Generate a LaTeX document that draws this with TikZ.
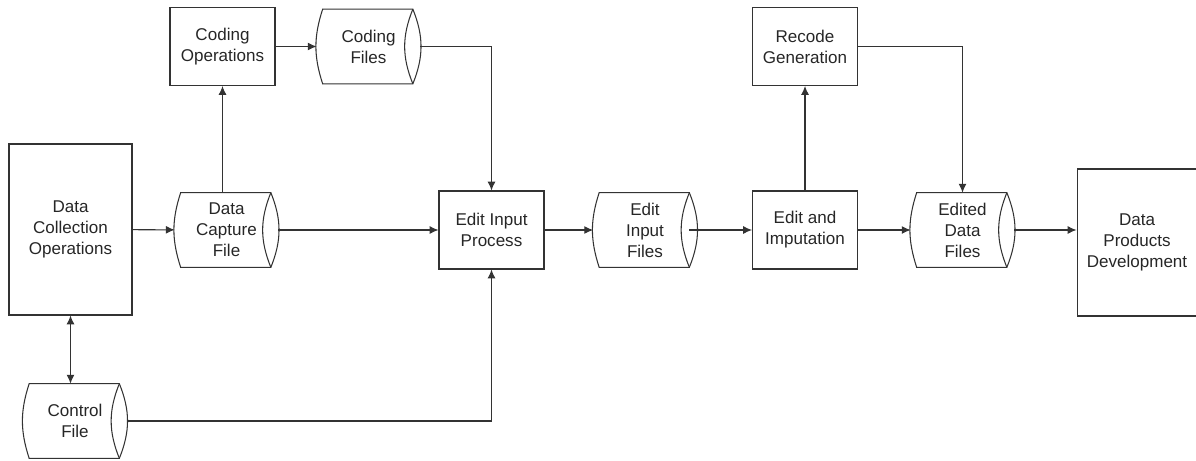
\documentclass[tikz,border=0pt]{standalone}
\usepackage{fontspec}
\setmainfont{Liberation Sans}
\usetikzlibrary{arrows,arrows.meta,calc}
\tikzset{
	box/.style={draw=black!80, line width=0.6pt, rectangle, align=center,
			minimum width=2.1cm, minimum height=1.56cm, inner sep=0pt},
	store/.style={rectangle, align=center, minimum width=2.06cm, minimum height=1.48cm, inner sep=0pt},
	outline/.style={draw=black!80, line width=0.6pt},
	flow/.style={-{Latex[length=5pt,width=4.5pt]}, line width=0.6pt, draw=black!80}
}

\begin{document}
\begin{tikzpicture}[x=0.02cm, y=-0.02cm, font=\fontsize{9.7}{11.9}\selectfont, text=black!85]
	\useasboundingbox (0,0) rectangle (1196,460);

	\node[box, minimum width=2.46cm, minimum height=3.42cm] (dco) at (70.5,229.5) {Data\\Collection\\Operations};
	\node[box] (cop) at (222.5,46.5) {Coding\\Operations};
	\node[store] (cf) at (368.5,46.5) {Coding\\Files};
	\node[store] (dcf) at (226.5,230) {Data\\Capture\\File};
	\node[store] (ctl) at (75,421) {Control\\File};
	\node[box] (eip) at (491.5,230) {Edit Input\\Process};
	\node[store] (eif) at (645,230) {Edit\\Input\\Files};
	\node[box] (eai) at (805,230) {Edit and\\Imputation};
	\node[box] (rg) at (805,46.5) {Recode\\Generation};
	\node[store] (edf) at (962.5,230) {Edited\\Data\\Files};
	\node[box, minimum width=2.4cm, minimum height=2.94cm] (dpd) at (1137,242.5) {Data\\Products\\Development};

	% file drums
	\foreach \n in {cf,dcf,ctl,eif,edf} {
		\draw[outline] ($(\n.north west)+(6,0)$) to[bend right=18] ($(\n.south west)+(6,0)$)
			-- ($(\n.south east)+(-7.5,0)$) to[bend right=22] ($(\n.north east)+(-7.5,0)$) -- cycle;
		\draw[outline] ($(\n.north east)+(-7.5,0)$) to[bend right=22] ($(\n.south east)+(-7.5,0)$);
	}
	\coordinate (eifout) at ($(eif.east)+(-7.5,0)$);

	\draw[flow] (dco) -- (dcf);
	\draw[flow] (dcf.north -| cop) -- (cop);
	\draw[flow] (cop) -- (cf);
	\draw[flow] (cf.east) -| (eip.north);
	\draw[flow] (dcf.east) -- (eip);
	\draw[flow, {Latex[length=5pt,width=4.5pt]}-{Latex[length=5pt,width=4.5pt]}] (dco.south) -- (dco.south |- ctl.north);
	\draw[flow] (ctl.east) -| (eip.south);
	\draw[flow] (eip) -- (eif);
	\draw[flow] (eifout) -- (eai);
	\draw[flow] (eai) -- (rg);
	\draw[flow] (rg.east) -| (edf.north);
	\draw[flow] (eai) -- (edf);
	\draw[flow] (edf.east) -- (dpd.west |- edf.east);
\end{tikzpicture}
\end{document}
